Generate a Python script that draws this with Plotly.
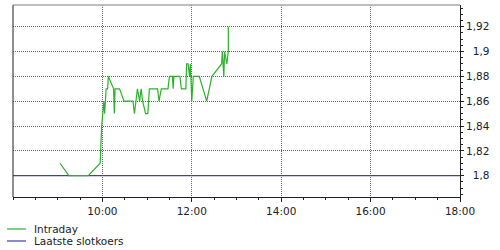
import plotly.graph_objects as go

DAY = "2024-01-01 "

intraday_times = [
    "09:03", "09:15", "09:41", "09:57", "09:59", "10:01", "10:02", "10:03",
    "10:05", "10:07", "10:08", "10:15", "10:16", "10:17", "10:23", "10:29",
    "10:41", "10:43", "10:47", "10:50", "10:52", "10:54", "10:58", "11:01",
    "11:03", "11:14", "11:16", "11:19", "11:28", "11:30", "11:34", "11:35",
    "11:36", "11:44", "11:46", "11:52", "11:53", "11:55", "11:57", "11:58",
    "12:00", "12:02", "12:10", "12:20", "12:27", "12:40", "12:41", "12:43",
    "12:44", "12:47", "12:49", "12:49",
]
intraday_prices = [
    1.81, 1.80, 1.80, 1.81, 1.84, 1.85, 1.86, 1.85,
    1.87, 1.87, 1.88, 1.87, 1.85, 1.87, 1.87, 1.86,
    1.86, 1.85, 1.87, 1.86, 1.87, 1.86, 1.85, 1.85,
    1.87, 1.87, 1.86, 1.87, 1.87, 1.88, 1.88, 1.87,
    1.88, 1.88, 1.87, 1.87, 1.89, 1.89, 1.88, 1.89,
    1.86, 1.88, 1.88, 1.86, 1.88, 1.89, 1.90, 1.88,
    1.90, 1.89, 1.90, 1.92,
]

close_times = ["08:00", "18:00"]
close_prices = [1.80, 1.80]

x_tick_times = ["10:00", "12:00", "14:00", "16:00", "18:00"]
y_tick_values = [1.80, 1.82, 1.84, 1.86, 1.88, 1.90, 1.92]

series_names = ["Intraday", "Laatste slotkoers"]
GREEN = "#2eb02e"
BLUE = "#4040a8"
FONT = "DejaVu Sans"
FS = 10.5


def fmt_y(v):
    s = f"{v:.2f}".rstrip("0").replace(".", ",")
    return ("\u2007" * (4 - len(s))) + s


fig = go.Figure()
fig.add_trace(go.Scatter(
    x=[DAY + t for t in close_times], y=close_prices, mode="lines",
    line=dict(color=BLUE, width=1.3), name=series_names[1], hoverinfo="skip",
))
fig.add_trace(go.Scatter(
    x=[DAY + t for t in intraday_times], y=intraday_prices, mode="lines",
    line=dict(color=GREEN, width=1.2), name=series_names[0], hoverinfo="skip",
))

fig.update_layout(
    width=500, height=250,
    margin=dict(l=13, r=40, t=5, b=53),
    paper_bgcolor="white", plot_bgcolor="white",
    showlegend=False,
    font=dict(family=FONT, size=FS, color="#222"),
    xaxis=dict(
        range=[DAY + "08:00", DAY + "18:00"],
        tickvals=[DAY + t for t in x_tick_times],
        ticktext=x_tick_times,
        showgrid=True, gridcolor="#666", griddash="1px,1px", gridwidth=1,
        showline=True, linecolor="#222", linewidth=1,
        ticks="outside", ticklen=4, tickcolor="#222",
        minor=dict(dtick=30 * 60 * 1000, tick0=DAY + "08:00", ticks="outside",
                   ticklen=2, tickcolor="#222", showgrid=False),
        zeroline=False, fixedrange=True,
    ),
    yaxis=dict(
        range=[1.7828, 1.9375], side="right",
        tickvals=y_tick_values, ticktext=[fmt_y(v) for v in y_tick_values],
        showgrid=True, gridcolor="#666", griddash="1px,1px", gridwidth=1,
        showline=True, linecolor="#222", linewidth=1,
        ticks="outside", ticklen=3, tickcolor="#222",
        minor=dict(dtick=0.005, tick0=1.8, ticks="outside", ticklen=2,
                   tickcolor="#222", showgrid=False),
        zeroline=False, fixedrange=True,
    ),
)

# plot frame top and left
fig.add_shape(type="line", xref="paper", yref="paper", x0=0, x1=1, y0=1, y1=1,
              line=dict(color="#aaa", width=1.5))
fig.add_shape(type="line", xref="paper", yref="paper", x0=0, x1=0, y0=0, y1=1,
              line=dict(color="#444", width=1.2))

# manual legend
legend_rows = [(series_names[0], GREEN, 229), (series_names[1], BLUE, 241)]
for name, col, ypx in legend_rows:
    yp = (250 - 53 - ypx) / 192.0
    fig.add_shape(type="line", xref="paper", yref="paper",
                  x0=(7 - 13) / 447.0, x1=(26 - 13) / 447.0, y0=yp, y1=yp,
                  line=dict(color=col, width=1.2))
    fig.add_annotation(text=name, xref="paper", yref="paper",
                       x=(32 - 13) / 447.0, y=yp, xanchor="left", yanchor="middle",
                       showarrow=False, font=dict(family=FONT, size=FS, color="#222"))

fig.write_html("out.html")
